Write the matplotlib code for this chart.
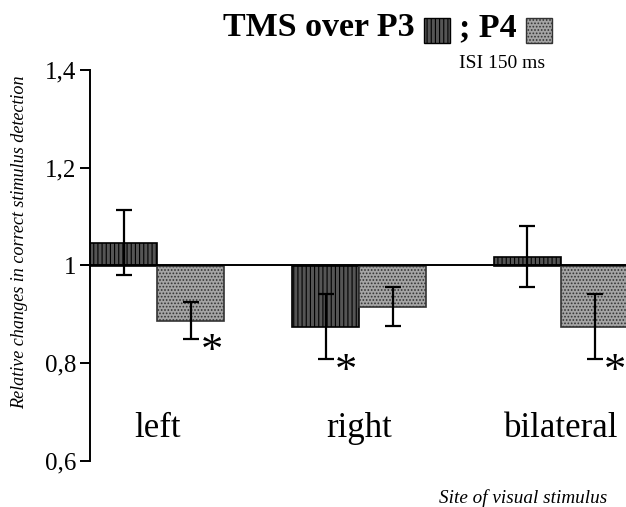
import matplotlib
matplotlib.use("Agg")
import matplotlib.pyplot as plt
from matplotlib.patches import Rectangle
import numpy as np

plt.rcParams['font.family'] = ['Liberation Serif', 'DejaVu Serif']
plt.rcParams['hatch.linewidth'] = 0.8

categories = ["left", "right", "bilateral"]
p3_values = [1.047, 0.875, 1.018]
p3_errors = [0.066, 0.067, 0.062]
p4_values = [0.887, 0.916, 0.875]
p4_errors = [0.038, 0.039, 0.067]
p4_significant = [True, False, True]
p3_significant = [False, True, False]
ytick_values = [0.6, 0.8, 1.0, 1.2, 1.4]
ytick_labels = ["0,6", "0,8", "1", "1,2", "1,4"]

W, H = 626, 507
fig = plt.figure(figsize=(W / 100, H / 100), dpi=100)
ax = fig.add_axes([90 / W, 1 - 461 / H, 1 - 90 / W + 0.002, (461 - 70) / H])

x = np.arange(len(categories))
bw = 0.333
base = 1.0

dark_face = '#555555'
light_face = '#a4a4a4'

p3_h = [v - base for v in p3_values]
p4_h = [v - base for v in p4_values]

ax.bar(x - bw / 2, p3_h, bw, bottom=base, color=dark_face, edgecolor='black',
       linewidth=1.2, hatch='||||', zorder=2)
ax.bar(x + bw / 2, p4_h, bw, bottom=base, color=light_face, edgecolor='#333333',
       linewidth=1.2, hatch='.....', zorder=2)

ax.axhline(base, color='black', lw=1.4, zorder=3, clip_on=False, xmin=-0.015)

ax.errorbar(x - bw / 2, p3_values, yerr=p3_errors, fmt='none', ecolor='black',
            elinewidth=1.6, capsize=5.5, capthick=1.6, zorder=4)
ax.errorbar(x + bw / 2, p4_values, yerr=p4_errors, fmt='none', ecolor='black',
            elinewidth=1.6, capsize=5.5, capthick=1.6, zorder=4)

star_dy = 0.025
for i in range(len(categories)):
    if p3_significant[i]:
        ax.text(x[i] - bw / 2 + 0.103, p3_values[i] - p3_errors[i] - star_dy, '*',
                fontsize=32, ha='center', va='center', zorder=5)
    if p4_significant[i]:
        ax.text(x[i] + bw / 2 + 0.103, p4_values[i] - p4_errors[i] - star_dy, '*',
                fontsize=32, ha='center', va='center', zorder=5)

for i, c in enumerate(categories):
    ax.text(x[i], 0.649, c, fontsize=25, ha='center', va='baseline')

ax.set_xlim(-0.333, 2.328)
ax.set_ylim(0.6, 1.4)
ax.set_yticks(ytick_values)
ax.set_yticklabels(ytick_labels, fontsize=18)
ax.tick_params(axis='y', length=7, width=1.4, direction='out', pad=3)
ax.set_xticks([])
for s in ['top', 'right', 'bottom']:
    ax.spines[s].set_visible(False)
ax.spines['left'].set_linewidth(1.4)

fig.text(20 / W, 1 - 242 / H, 'Relative changes in correct stimulus detection',
         rotation=90, ha='center', va='center', fontsize=13.1, style='italic')
fig.text(607 / W, 1 - 498 / H, 'Site of visual stimulus', ha='right', va='center',
         fontsize=13.8, style='italic')

# title with legend boxes
fig.text(223 / W, 1 - 36 / H, 'TMS over P3', fontsize=24.5, fontweight='bold',
         ha='left', va='baseline')
fig.text(459 / W, 1 - 36 / H, '; P4', fontsize=24.5, fontweight='bold',
         ha='left', va='baseline')
fig.patches.append(Rectangle((424 / W, 1 - 43 / H), 26 / W, 25 / H, transform=fig.transFigure,
                             facecolor=dark_face, edgecolor='black', hatch='||||', lw=1.0))
fig.patches.append(Rectangle((526 / W, 1 - 43 / H), 26 / W, 25 / H, transform=fig.transFigure,
                             facecolor=light_face, edgecolor='#333333', hatch='.....', lw=1.0))
fig.text(459 / W, 1 - 68 / H, 'ISI 150 ms', fontsize=14, ha='left', va='baseline')

fig.savefig('out.png', dpi=100)
